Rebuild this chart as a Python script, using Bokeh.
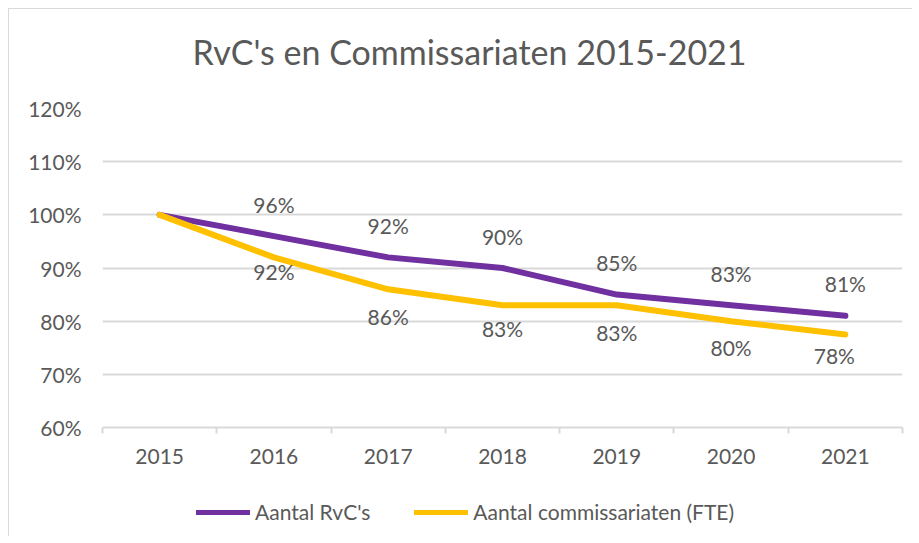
from bokeh.plotting import figure
from bokeh.layouts import column
from bokeh.models import (ColumnDataSource, LabelSet, Legend, LegendItem, FixedTicker,
                          NumeralTickFormatter, Range1d)
from bokeh.core.properties import value
from bokeh.embed import file_html
from bokeh.resources import INLINE

# ---- data ----
years = [2015, 2016, 2017, 2018, 2019, 2020, 2021]
rvc = [1.00, 0.96, 0.92, 0.90, 0.85, 0.83, 0.81]
comm = [1.00, 0.92, 0.86, 0.83, 0.83, 0.80, 0.775]
rvc_labels = ["", "96%", "92%", "90%", "85%", "83%", "81%"]
comm_labels = ["", "92%", "86%", "83%", "83%", "80%", "78%"]
y_ticks = [0.6, 0.7, 0.8, 0.9, 1.0, 1.1, 1.2]
title_text = "RvC's en Commissariaten 2015-2021"
series_names = ["Aantal RvC's", "Aantal commissariaten (FTE)"]

# ---- styling ----
PURPLE = "#7030A0"
YELLOW = "#FFC000"
TXT = "#595959"
GRID = "#D9D9D9"
FONT = "Lato"
FS = "21px"
W = 903
# pixel offsets of the data labels of the second series (as placed in the original)
comm_label_dy = [0, -14, -27, -23, -27, -26, -21]
comm_label_dx = [0, 0, 0, 0, 0, 0, -11]

p = figure(width=W, height=478, output_backend="svg", toolbar_location=None,
           x_range=Range1d(years[0] - 0.5, years[-1] + 0.5),
           y_range=Range1d(y_ticks[0], y_ticks[-1]),
           min_border_left=93, min_border_right=10, min_border_top=99, min_border_bottom=60)
p.outline_line_color = None
p.background_fill_color = "white"
p.border_fill_color = "white"

# title
p.title.text = title_text
p.title.align = "left"
p.title.vertical_align = "top"
p.title.offset = 90
p.title.standoff = 43
p.title.padding = dict(left=0, right=0, top=0, bottom=13)
p.title.text_font = FONT
p.title.text_font_size = "34px"
p.title.text_font_style = "normal"
p.title.text_color = TXT

# axes
p.xaxis.ticker = FixedTicker(ticks=years, minor_ticks=[y - 0.5 for y in years] + [years[-1] + 0.5])
p.xaxis.formatter = NumeralTickFormatter(format="0")
p.xaxis.axis_line_color = GRID
p.xaxis.axis_line_width = 2
p.xaxis.major_tick_out = 0
p.xaxis.major_tick_in = 0
p.xaxis.minor_tick_out = 6
p.xaxis.minor_tick_in = 0
p.xaxis.minor_tick_line_color = GRID
p.xaxis.minor_tick_line_width = 2
p.xaxis.major_label_standoff = 15
p.xaxis.major_label_text_font = FONT
p.xaxis.major_label_text_font_size = FS
p.xaxis.major_label_text_color = TXT

p.yaxis.ticker = FixedTicker(ticks=y_ticks, minor_ticks=[])
p.yaxis.formatter = NumeralTickFormatter(format="0%")
p.yaxis.axis_line_color = None
p.yaxis.major_tick_out = 0
p.yaxis.major_tick_in = 0
p.yaxis.major_label_standoff = 21
p.yaxis.major_label_text_font = FONT
p.yaxis.major_label_text_font_size = FS
p.yaxis.major_label_text_color = TXT

p.xgrid.grid_line_color = None
p.ygrid.ticker = FixedTicker(ticks=y_ticks)
p.ygrid.grid_line_color = GRID
p.ygrid.grid_line_width = 2

# lines
src = ColumnDataSource(dict(x=years, rvc=rvc, comm=comm, rl=rvc_labels, cl=comm_labels,
                            cdx=comm_label_dx, cdy=comm_label_dy))
p.line("x", "rvc", source=src, line_color=PURPLE, line_width=6,
       line_join="round", line_cap="round")
p.line("x", "comm", source=src, line_color=YELLOW, line_width=6,
       line_join="round", line_cap="round")

# data labels
lab1 = LabelSet(x="x", y="rvc", text="rl", source=src, y_offset=32,
                text_align="center", text_baseline="middle",
                text_font=value(FONT), text_font_size=value(FS), text_color=TXT)
lab2 = LabelSet(x="x", y="comm", text="cl", source=src, x_offset="cdx", y_offset="cdy",
                text_align="center", text_baseline="middle",
                text_font=value(FONT), text_font_size=value(FS), text_color=TXT)
p.add_layout(lab1)
p.add_layout(lab2)

# legend strip (separate small figure below the chart); its key lines lie
# outside its visible range, only the legend swatches show
leg = figure(width=W, height=49, output_backend="svg", toolbar_location=None,
             x_range=Range1d(0, 1), y_range=Range1d(0, 1),
             x_axis_location=None, y_axis_location=None,
             min_border_left=0, min_border_right=0, min_border_top=0, min_border_bottom=0)
leg.outline_line_color = None
leg.xgrid.grid_line_color = None
leg.ygrid.grid_line_color = None
key_src = ColumnDataSource(dict(x=[5, 6], y=[5, 5]))
lr1 = leg.line("x", "y", source=key_src, line_color=PURPLE, line_width=5, line_cap="round")
lr2 = leg.line("x", "y", source=key_src, line_color=YELLOW, line_width=5, line_cap="round")
legend = Legend(items=[LegendItem(label=series_names[0], renderers=[lr1]),
                       LegendItem(label=series_names[1], renderers=[lr2])],
                orientation="horizontal", location=(94, 12),
                glyph_width=54, glyph_height=20, label_standoff=5, spacing=44,
                padding=0, margin=0, border_line_color=None, background_fill_alpha=0,
                label_text_font=FONT, label_text_font_size=FS, label_text_color=TXT)
leg.add_layout(legend)

layout = column(p, leg, spacing=0, margin=(8, 0, 0, 8),
                styles={"border-left": "1px solid #D9D9D9", "border-top": "1px solid #D9D9D9"})

open("out.html", "w").write(file_html(layout, INLINE))
